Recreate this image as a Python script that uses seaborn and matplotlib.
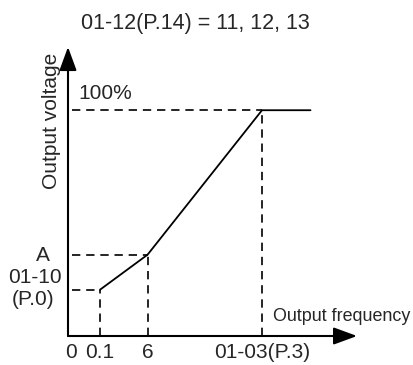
import matplotlib
matplotlib.use("Agg")
import matplotlib.pyplot as plt
import seaborn as sns
import pandas as pd

# V/F curve (schematic units: frequency as % of 01-03, voltage in %)
freq = [16.5, 41, 100, 125]
volt = [20.5, 36, 100, 100]
tick_pos = [0, 16.5, 41, 100]
tick_labels = ["0", "0.1", "6", "01-03(P.3)"]

sns.set_style("white")
plt.rcParams["font.family"] = ["Liberation Sans", "DejaVu Sans"]

fig = plt.figure(figsize=(4.14, 3.65), dpi=100)
# origin at pixel (68, 336); 1.94 px per x unit, 2.26 px per y unit
ax = fig.add_axes([68 / 414, 29 / 365, 291 / 414, 289 / 365])
ax.set_xlim(0, 150)
ax.set_ylim(0, 128)
ax.axis("off")

curve = pd.DataFrame({"freq": freq, "volt": volt})
sns.lineplot(data=curve, x="freq", y="volt", color="black", lw=1.3, ax=ax,
             sort=False)

# dashed guides
for f, v in zip(freq[:3], volt[:3]):
    ax.plot([2, f], [v, v], color="black", lw=1.2, dashes=(5, 3.5))
    ax.plot([f, f], [0, v], color="black", lw=1.2, dashes=(5, 3.5))

# axes arrows
arrow = dict(arrowstyle="-|>,head_length=0.6,head_width=0.22",
             mutation_scale=24, color="black", lw=1.5, shrinkA=0, shrinkB=0)
ax.annotate("", xy=(149, 0), xytext=(0, 0), arrowprops=arrow)
ax.annotate("", xy=(0, 128), xytext=(0, 0), arrowprops=arrow)

fs = 15
for p, lab in zip(tick_pos, tick_labels):
    ax.text(p + (1.5 if p == 0 else 0), -7.5, lab, ha="center", va="center",
            fontsize=fs)

ax.text(105.5, 8.5, "Output frequency", ha="left", va="center", fontsize=12.9)
ax.text(-8.5, 95.5, "Output voltage", ha="center", va="center", rotation=90,
        fontsize=fs)
ax.text(5.5, 107.5, "100%", ha="left", va="center", fontsize=fs)
ax.text(-13, 35.8, "A", ha="center", va="center", fontsize=fs)
ax.text(-17, 25.7, "01-10", ha="center", va="center", fontsize=fs)
ax.text(-18, 16, "(P.0)", ha="center", va="center", fontsize=fs)

fig.text(195 / 414, 1 - 24 / 365, "01-12(P.14) = 11, 12, 13", ha="center",
         va="center", fontsize=15.5)

fig.savefig("out.png", dpi=100)
